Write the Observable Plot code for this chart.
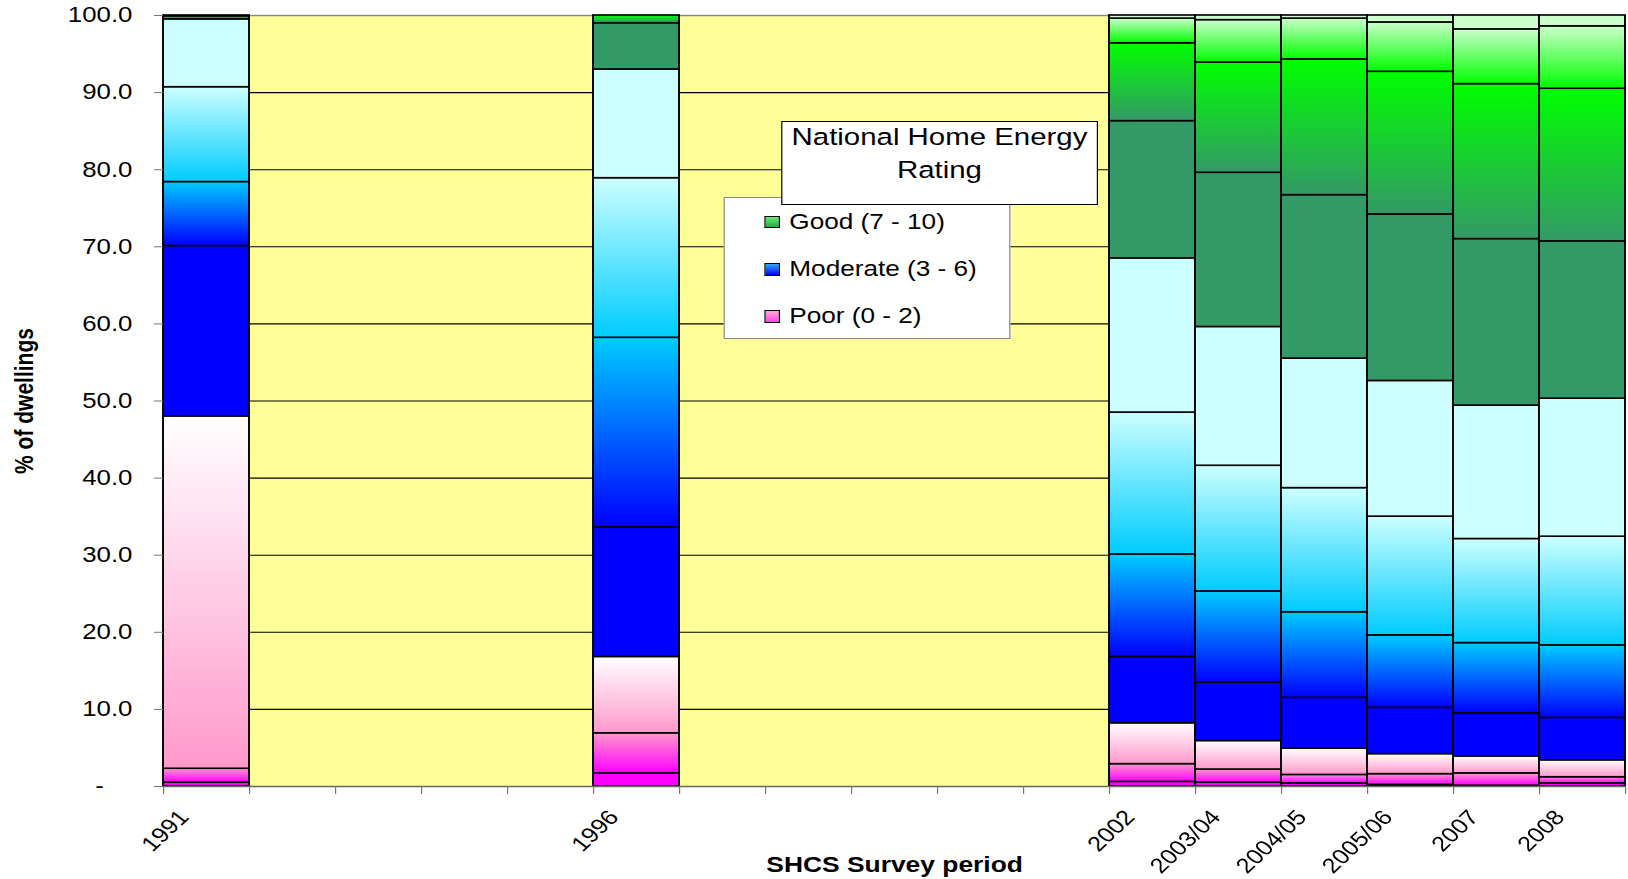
<!DOCTYPE html>
<html><head><meta charset="utf-8">
<script src="https://cdn.jsdelivr.net/npm/d3@7"></script>
<script src="https://cdn.jsdelivr.net/npm/@observablehq/plot@0.6"></script>
<style>
html,body{margin:0;padding:0;background:#fff;overflow:hidden;}
#wrap{position:relative;width:1356.667px;height:879px;transform:scaleX(1.2);transform-origin:0 0;font-family:"Liberation Sans",Arial,sans-serif;}
.box{position:absolute;background:#fff;box-sizing:border-box;}
.t{position:absolute;white-space:nowrap;line-height:1;color:#000;}
.sw{position:absolute;box-sizing:border-box;border:1px solid #000;}
</style></head><body><div id="wrap"></div>
<script>
// ---- data ----
const axisSlots = ["1991","1992","1993","1994","1995","1996","1997","1998","1999","2000","2001","2002","2003/04","2004/05","2005/06","2007","2008"];
const tickLabels = ["1991","","","","","1996","","","","","","2002","2003/04","2004/05","2005/06","2007","2008"];
const surveyPeriods = ["1991","1996","2002","2003/04","2004/05","2005/06","2007","2008"];
const nherBands = ["0","1","2","3","4","5","6","7","8","9","10"];
const share1991 = [0.5,1.8,45.7,22.1,8.3,12.3,8.8,0.4,0.1,0,0];
const share1996 = [1.7,5.2,9.9,16.8,24.6,20.7,14.1,6.0,1.0,0,0];
const share2002 = [0.6,2.3,5.3,8.6,13.3,18.4,20.0,17.8,10.1,3.2,0.4];
const share2003 = [0.5,1.7,3.7,7.6,11.8,16.3,18.0,20.0,14.3,5.5,0.6];
const share2004 = [0.4,1.1,3.4,6.6,11.1,16.1,16.8,21.2,17.6,5.3,0.4];
const share2005 = [0.2,1.4,2.6,6.0,9.4,15.4,17.6,21.6,18.5,6.4,0.9];
const share2007 = [0.1,1.6,2.2,5.6,9.1,13.5,17.3,21.6,20.1,7.1,1.8];
const share2008 = [0.4,0.8,2.2,5.5,9.4,14.1,17.9,20.4,19.8,8.1,1.4];
const yTicks = [0,10,20,30,40,50,60,70,80,90,100];
const legendLabels = ["Good (7 - 10)","Moderate (3 - 6)","Poor (0 - 2)"];

// ---- styles ----
const bandBottom = ["#FF00FF","#FF00FF","#FF99CC","#0000FF","#0000FF","#00CCFF","#CCFFFF","#339966","#339966","#00FF00","#CCFFCC"];
const bandTop    = ["#FF00FF","#FF99CC","#FFFFFF","#0000FF","#00CCFF","#CCFFFF","#CCFFFF","#339966","#00FF00","#CCFFCC","#CCFFCC"];
const swatchFill = ["linear-gradient(#66EE77,#22AA44)","linear-gradient(#33AAFF,#0000EE)","linear-gradient(#FFAADD,#FF44DD)"];

const shares = [share1991,share1996,share2002,share2003,share2004,share2005,share2007,share2008];
const table = [];
surveyPeriods.forEach((p, i) => {
  shares[i].forEach((v, b) => {
    if (v > 0) table.push({period: p, pos: axisSlots.indexOf(p), band: +nherBands[b], value: v});
  });
});

function gradientDefs() {
  const defs = d3.create("svg:defs");
  nherBands.forEach((b, i) => {
    const g = defs.append("linearGradient").attr("id", "nher-g" + i)
      .attr("x1", 0).attr("y1", 1).attr("x2", 0).attr("y2", 0);
    g.append("stop").attr("offset", 0).attr("stop-color", bandBottom[i]);
    g.append("stop").attr("offset", 1).attr("stop-color", bandTop[i]);
  });
  return defs.node();
}

const K = 1.2;
const chart = Plot.plot({
  width: 1628 / K,
  height: 879,
  marginLeft: 163 / K,
  marginRight: 3 / K,
  marginTop: 15,
  marginBottom: 93,
  x: {type: "linear", domain: [0, axisSlots.length]},
  y: {domain: [0, 100]},
  color: {type: "identity"},
  style: {fontFamily: "'Liberation Sans', Arial, sans-serif", background: "#fff", overflow: "visible"},
  marks: [
    gradientDefs,
    Plot.frame({fill: "#FFFF99", stroke: "none"}),
    Plot.ruleY(yTicks.filter(d => d > 0 && d < 100), {stroke: "#000", strokeWidth: 1.1}),
    Plot.ruleY([100], {stroke: "#888", strokeWidth: 1.5}),
    Plot.rectY(table, {x1: "pos", x2: d => d.pos + 1, y: "value", fill: d => `url(#nher-g${d.band})`, stroke: "#000", strokeWidth: 1.6}),
    Plot.ruleY([0], {stroke: "#666", strokeWidth: 1.5}),
    Plot.axisY(yTicks, {tickFormat: () => "", tickSize: 9 / K, stroke: "#777", label: null}),
    Plot.axisY(yTicks, {tickFormat: d => d === 0 ? "-\u2007\u2007" : d.toFixed(1), tickSize: 0, tickPadding: 26, fontSize: 21.5, label: null}),
    Plot.axisX(d3.range(axisSlots.length + 1), {tickFormat: () => "", tickSize: 8, stroke: "#777", label: null}),
    Plot.axisX(d3.range(axisSlots.length), {tickFormat: i => tickLabels[i], tickSize: 0, tickPadding: 0, tickRotate: -48, textAnchor: "end", lineAnchor: "middle", dx: 17, dy: 27, fontSize: 21, label: null}),
    Plot.text(["% of dwellings"], {text: d => d, frameAnchor: "left", dx: -(163 / K - 20), dy: 0, rotate: -90, fontWeight: "bold", fontSize: 21, textAnchor: "middle", lineAnchor: "middle"}),
    Plot.text(["SHCS Survey period"], {text: d => d, frameAnchor: "bottom", dy: 78, fontWeight: "bold", fontSize: 22, textAnchor: "middle", lineAnchor: "middle"})
  ]
});

const wrap = document.getElementById("wrap");
wrap.appendChild(chart);

function addDiv(cls, css, text) {
  const d = document.createElement("div");
  d.className = cls;
  Object.assign(d.style, css);
  if (text != null) d.textContent = text;
  wrap.appendChild(d);
  return d;
}
// legend box
addDiv("box", {left: (724 / K) + "px", top: "197px", width: ((1011 - 724) / K) + "px", height: "142px", border: "1px solid #888"});
// title box
addDiv("box", {left: (781 / K) + "px", top: "121px", width: ((1098 - 781) / K) + "px", height: "84px", border: "1.5px solid #000"});
addDiv("t", {left: (781 / K) + "px", width: ((1098 - 781) / K) + "px", textAlign: "center", top: (145.7 - 0.8465 * 24.5) + "px", fontSize: "24.5px"}, "National Home Energy");
addDiv("t", {left: (781 / K) + "px", width: ((1098 - 781) / K) + "px", textAlign: "center", top: (178.3 - 0.8465 * 24.5) + "px", fontSize: "24.5px"}, "Rating");
const baselines = [229.3, 276.7, 323.3];
const swTops = [215.7, 263.3, 310];
legendLabels.forEach((lab, i) => {
  addDiv("sw", {left: (764 / K) + "px", top: swTops[i] + "px", width: "13.3px", height: "12.6px", background: swatchFill[i]});
  addDiv("t", {left: (789.3 / K) + "px", top: (baselines[i] - 0.8465 * 21.8) + "px", fontSize: "21.8px"}, lab);
});
</script></body></html>
